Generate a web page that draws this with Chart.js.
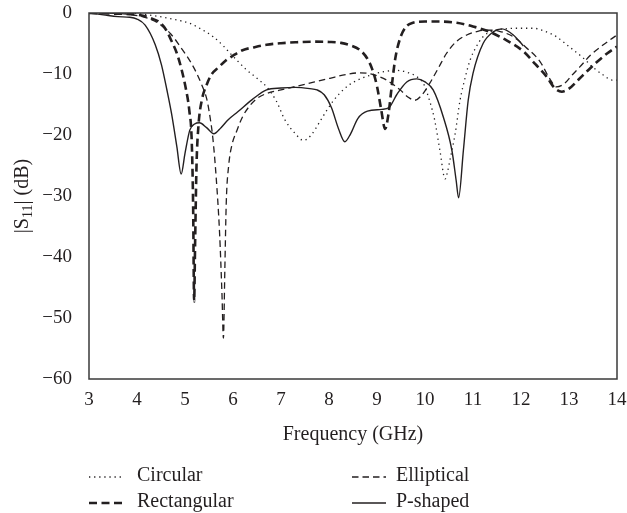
<!DOCTYPE html>
<html>
<head>
<meta charset="utf-8">
<script src="https://cdn.jsdelivr.net/npm/chart.js@4/dist/chart.umd.min.js"></script>
<style>
  html, body { margin: 0; padding: 0; background: #fff; }
  #wrap { width: 627px; height: 513px; position: relative; }
</style>
</head>
<body>
<div id="wrap"><canvas id="c" width="627" height="513"></canvas></div>
<script>
// Return loss |S11| (dB) versus frequency (GHz) for four patch shapes.

const xTicks = [3, 4, 5, 6, 7, 8, 9, 10, 11, 12, 13, 14];
const yTicks = [0, -10, -20, -30, -40, -50, -60];

const circularFreq = [3.0, 3.5, 4.0, 4.48, 4.8, 5.1, 5.35, 5.59, 5.8, 5.94, 6.1, 6.28, 6.5, 6.7, 6.9, 7.08, 7.3, 7.47, 7.63, 7.81, 7.95, 8.09, 8.23, 8.4, 8.65, 8.9, 9.15, 9.4, 9.62, 9.8, 9.97, 10.1, 10.2, 10.31, 10.42, 10.47, 10.52, 10.63, 10.73, 10.84, 10.94, 11.07, 11.21, 11.38, 11.56, 11.9, 12.26, 12.5, 12.74, 13.0, 13.3, 13.5, 13.72, 13.9, 14.0];
const circularS11 = [0, 0, -0.1, -0.6, -1.1, -1.7, -2.7, -3.9, -5.4, -6.6, -7.9, -9.3, -10.7, -12.1, -14.4, -17.5, -19.8, -20.9, -20.0, -17.8, -16.0, -14.4, -13.1, -11.9, -10.8, -10.1, -9.6, -9.4, -9.7, -10.3, -11.6, -14.5, -17.5, -22.5, -27.2, -26.0, -24.1, -19.7, -14.3, -10.5, -7.7, -5.5, -3.9, -3.0, -2.7, -2.5, -2.5, -3.0, -3.9, -5.5, -7.4, -8.9, -10.2, -11.0, -11.0];

const rectangularFreq = [3.0, 3.5, 3.9, 4.1, 4.3, 4.45, 4.6, 4.72, 4.83, 4.93, 5.02, 5.09, 5.14, 5.17, 5.19, 5.21, 5.24, 5.28, 5.35, 5.45, 5.55, 5.7, 5.85, 6.0, 6.2, 6.45, 6.7, 7.0, 7.3, 7.67, 8.0, 8.25, 8.45, 8.65, 8.8, 8.9, 9.0, 9.08, 9.17, 9.24, 9.3, 9.38, 9.48, 9.6, 9.75, 10.0, 10.3, 10.66, 11.0, 11.35, 11.7, 12.05, 12.3, 12.53, 12.7, 12.85, 13.0, 13.2, 13.37, 13.6, 13.8, 14.0];
const rectangularS11 = [0, -0.1, -0.2, -0.4, -0.9, -1.4, -2.7, -4.6, -6.6, -9.3, -12.5, -16.0, -21.0, -32.0, -47.3, -38.0, -25.0, -18.5, -14.3, -11.8, -10.1, -8.9, -7.8, -7.0, -6.1, -5.6, -5.2, -4.95, -4.8, -4.7, -4.75, -4.9, -5.3, -6.1, -7.5, -9.2, -12.0, -15.5, -19.0, -16.5, -12.5, -7.5, -4.2, -2.3, -1.6, -1.4, -1.4, -1.6, -2.2, -3.1, -4.5, -6.3, -8.4, -10.4, -12.3, -12.9, -12.4, -10.9, -9.6, -7.9, -6.6, -5.5];

const ellipticalFreq = [3.0, 3.5, 3.9, 4.2, 4.45, 4.7, 4.9, 5.05, 5.2, 5.35, 5.45, 5.5, 5.58, 5.65, 5.72, 5.77, 5.80, 5.83, 5.86, 5.91, 5.97, 6.08, 6.2, 6.35, 6.5, 6.7, 7.0, 7.33, 7.7, 8.02, 8.35, 8.65, 8.92, 9.2, 9.48, 9.65, 9.79, 9.93, 10.1, 10.28, 10.45, 10.65, 10.87, 11.1, 11.28, 11.55, 11.84, 12.1, 12.4, 12.6, 12.74, 12.9, 13.05, 13.23, 13.45, 13.7, 14.0];
const ellipticalS11 = [0, -0.05, -0.3, -0.8, -1.7, -3.4, -5.5, -7.2, -9.2, -11.8, -14.0, -16.0, -20.5, -27.0, -36.0, -46.0, -53.3, -42.0, -31.0, -25.0, -21.9, -19.3, -17.0, -15.2, -14.0, -13.2, -12.6, -12.0, -11.3, -10.7, -10.1, -9.8, -10.1, -11.0, -12.6, -13.8, -14.3, -13.5, -11.5, -9.0, -6.6, -4.7, -3.6, -3.0, -2.8, -3.0, -3.9, -5.6, -8.0, -10.8, -12.1, -11.6, -10.3, -8.8, -6.9, -5.3, -3.6];

const pShapedFreq = [3.0, 3.3, 3.6, 3.85, 4.0, 4.17, 4.38, 4.51, 4.62, 4.72, 4.83, 4.92, 5.0, 5.1, 5.2, 5.3, 5.45, 5.6, 5.75, 5.9, 6.1, 6.4, 6.7, 7.0, 7.3, 7.6, 7.75, 7.9, 8.05, 8.2, 8.33, 8.45, 8.6, 8.8, 9.1, 9.25, 9.41, 9.62, 9.83, 10.0, 10.17, 10.38, 10.56, 10.65, 10.70, 10.8, 10.9, 11.0, 11.21, 11.42, 11.6, 11.84, 12.05];
const pShapedS11 = [0, -0.3, -0.6, -0.7, -1.0, -2.0, -5.2, -8.5, -12.5, -16.5, -21.9, -26.4, -23.0, -19.2, -18.2, -18.0, -18.8, -19.8, -18.8, -17.5, -16.2, -14.2, -12.6, -12.3, -12.2, -12.4, -12.6, -13.4, -15.5, -19.0, -21.1, -19.8, -17.3, -16.1, -15.8, -15.5, -13.4, -11.3, -10.8, -11.3, -12.6, -17.0, -22.5, -27.5, -30.3, -22.5, -14.3, -9.9, -5.0, -3.1, -2.6, -3.6, -5.4];

const seriesNames = ['Circular', 'Rectangular', 'Elliptical', 'P-shaped'];

const FONT = 'Liberation Serif, "Times New Roman", serif';
const INK = '#231f20';

function pairs(xs, ys) {
  return xs.map((x, i) => ({ x: x, y: ys[i] }));
}

const styles = [
  { width: 1.3, dash: [1.3, 3.8] },
  { width: 2.6, dash: [8, 4.5] },
  { width: 1.3, dash: [6.5, 4] },
  { width: 1.4, dash: [] }
];

const seriesData = [
  pairs(circularFreq, circularS11),
  pairs(rectangularFreq, rectangularS11),
  pairs(ellipticalFreq, ellipticalS11),
  pairs(pShapedFreq, pShapedS11)
];

const datasets = seriesNames.map((name, i) => ({
  label: name,
  data: seriesData[i],
  borderColor: INK,
  borderWidth: styles[i].width,
  borderDash: styles[i].dash,
  pointRadius: 0,
  fill: false,
  cubicInterpolationMode: 'monotone'
}));

// Frame, axis titles and the two-column legend.
const decorations = {
  id: 'decorations',
  afterDatasetsDraw(chart) {
    const ctx = chart.ctx;
    const a = chart.chartArea;
    ctx.save();
    ctx.strokeStyle = '#3a3a3a';
    ctx.lineWidth = 1.5;
    ctx.setLineDash([]);
    ctx.strokeRect(a.left, a.top, a.right - a.left, a.bottom - a.top);
    ctx.restore();
  },
  afterDraw(chart) {
    const ctx = chart.ctx;
    const a = chart.chartArea;
    ctx.save();
    ctx.fillStyle = INK;

    // x-axis title
    ctx.font = '20px ' + FONT;
    ctx.textAlign = 'center';
    ctx.textBaseline = 'alphabetic';
    ctx.fillText('Frequency (GHz)', (a.left + a.right) / 2, 440);

    // y-axis title with subscript
    ctx.save();
    ctx.translate(28, (a.top + a.bottom) / 2);
    ctx.rotate(-Math.PI / 2);
    const big = '20px ' + FONT;
    const small = '14px ' + FONT;
    const parts = [
      { t: '|S', f: big, dy: 0 },
      { t: '11', f: small, dy: 4 },
      { t: '| (dB)', f: big, dy: 0 }
    ];
    let total = 0;
    parts.forEach(p => { ctx.font = p.f; p.w = ctx.measureText(p.t).width; total += p.w; });
    let x = -total / 2;
    ctx.textAlign = 'left';
    parts.forEach(p => { ctx.font = p.f; ctx.fillText(p.t, x, p.dy); x += p.w; });
    ctx.restore();

    // legend
    const rows = [
      { name: seriesNames[0], style: styles[0], lx: 89, tx: 137, y: 477 },
      { name: seriesNames[2], style: styles[2], lx: 352, tx: 396, y: 477 },
      { name: seriesNames[1], style: styles[1], lx: 89, tx: 137, y: 503 },
      { name: seriesNames[3], style: styles[3], lx: 352, tx: 396, y: 503 }
    ];
    rows.forEach(r => {
      ctx.save();
      ctx.strokeStyle = INK;
      ctx.lineWidth = r.style.width;
      ctx.setLineDash(r.style.dash);
      ctx.beginPath();
      ctx.moveTo(r.lx, r.y);
      ctx.lineTo(r.lx + 34, r.y);
      ctx.stroke();
      ctx.restore();
      ctx.font = '20px ' + FONT;
      ctx.textAlign = 'left';
      ctx.textBaseline = 'alphabetic';
      ctx.fillText(r.name, r.tx, r.y + 4);
    });
    ctx.restore();
  }
};

new Chart(document.getElementById('c'), {
  type: 'line',
  data: { datasets: datasets },
  options: {
    responsive: false,
    animation: false,
    layout: { padding: { top: 13, right: 10, left: 0, bottom: 0 } },
    plugins: { legend: { display: false }, tooltip: { enabled: false } },
    scales: {
      x: {
        type: 'linear',
        min: xTicks[0],
        max: xTicks[xTicks.length - 1],
        afterBuildTicks: s => { s.ticks = xTicks.map(v => ({ value: v })); },
        ticks: { font: { family: FONT, size: 19 }, color: INK, padding: 2, maxRotation: 0 },
        grid: { display: false },
        border: { display: false },
        afterFit: s => { s.height = 134; s.paddingLeft = 0; s.paddingRight = 0; }
      },
      y: {
        type: 'linear',
        min: yTicks[yTicks.length - 1],
        max: yTicks[0],
        afterBuildTicks: s => { s.ticks = yTicks.map(v => ({ value: v })); },
        ticks: {
          font: { family: FONT, size: 19 },
          color: INK,
          padding: 9,
          callback: v => (v < 0 ? '\u2212' + Math.abs(v) : String(v))
        },
        grid: { display: false },
        border: { display: false },
        afterFit: s => { s.width = 89; s.paddingTop = 0; s.paddingBottom = 0; }
      }
    }
  },
  plugins: [decorations]
});
</script>
</body>
</html>
